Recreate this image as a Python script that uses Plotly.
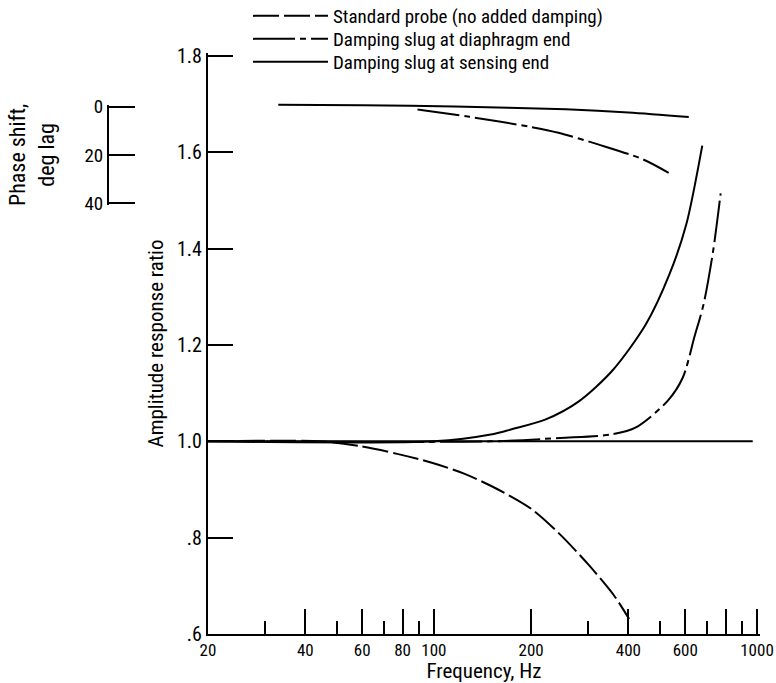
import math
import plotly.graph_objects as go

# ---------------- data ----------------
# Amplitude response ratio
freq_std = [20, 45, 59, 77, 98, 124, 158, 200, 243, 300, 361, 402]
amp_std = [1.0, 1.0, 0.990, 0.974, 0.956, 0.933, 0.900, 0.860, 0.810, 0.745, 0.680, 0.631]

freq_diaph = [20, 150, 246, 352, 422, 529, 589, 641, 683, 731, 772]
amp_diaph = [1.0, 1.0, 1.007, 1.014, 1.029, 1.084, 1.132, 1.218, 1.284, 1.394, 1.515]

freq_sens_rise = [20, 100, 150, 174, 221, 281, 357, 453, 536, 604, 677]
amp_sens_rise = [1.0, 1.0, 1.014, 1.025, 1.045, 1.083, 1.147, 1.243, 1.347, 1.450, 1.614]

freq_flat = [20, 970]
amp_flat = [1.0, 1.0]

# Phase shift, deg lag
freq_ph_sens = [33, 60, 116, 256, 400, 615]
ph_sens = [-0.8, -0.6, -0.1, 1.1, 2.4, 4.3]

freq_ph_diaph = [89, 129, 196, 243, 324, 442, 533]
ph_diaph = [1.2, 4.2, 8.2, 10.8, 15.7, 21.7, 27.4]

# axis ticks
x_major = [20, 40, 60, 80, 100, 200, 400, 600, 800, 1000]
x_major_text = ["20", "40", "60", "80", "100", "200", "400", "600", "", "1000"]
x_minor = [30, 50, 70, 90, 300, 500, 700, 900]
x_long = [100, 1000]
y_vals = [0.6, 0.8, 1.0, 1.2, 1.4, 1.6, 1.8]
y_text = [".6", ".8", "1.0", "1.2", "1.4", "1.6", "1.8"]
ph_ticks = [0, 20, 40]

# ---------------- styling / layout constants ----------------
FONT = "Roboto Condensed, Liberation Sans Narrow, Roboto, sans-serif"
DASH_STD = "26px,5px"
DASH_DD = "42px,5px,6px,5px"
LW = 2
PAD = 3  # px of axis beyond the end ticks so end ticks are drawn

W, H = 776, 683
PX_X20, PX_X1000 = 208, 757
PX_Y06, PX_Y18 = 634, 56
PX_PH_X, PX_PH0, PX_PH40 = 108, 106.7, 203.3
LEG_ITEMW = 75
LEG_X, LEG_TOPS = 333 - (LEG_ITEMW + 10), [-3, 20, 43]

ML = 100
MR = W - (PX_X1000 + PAD)
MT = PX_Y18 - PAD
MB = H - PX_Y06
paper_w = W - ML - MR
paper_h = H - MT - MB

x_lo = math.log10(20)
x_hi = 3 + PAD * (3 - x_lo) / (PX_X1000 - PX_X20)
y_hi = 1.8 + PAD * 1.2 / (PX_Y06 - PX_Y18)
x_dom0 = (PX_X20 - ML) / paper_w
ph_pos = (PX_PH_X - ML) / paper_w

deg_px = (PX_PH40 - PX_PH0) / 40.0
ph_pad = 1.5
ph_dom = [(H - MB - (PX_PH40 + ph_pad)) / paper_h, (H - MB - (PX_PH0 - ph_pad)) / paper_h]
ph_range = [40 + ph_pad / deg_px, -ph_pad / deg_px]
ph_full = [(H - MB - PX_PH0) / deg_px, (MT - PX_PH0) / deg_px]

fig = go.Figure()
fig.add_trace(go.Scatter(x=freq_std, y=amp_std, mode="lines", name="Standard probe (no added damping)",
                         legend="legend",
                         line=dict(color="black", width=LW, dash=DASH_STD, shape="spline", smoothing=0.8)))
fig.add_trace(go.Scatter(x=freq_diaph, y=amp_diaph, mode="lines", name="Damping slug at diaphragm end",
                         legend="legend2",
                         line=dict(color="black", width=LW, dash=DASH_DD, shape="spline", smoothing=0.8)))
fig.add_trace(go.Scatter(x=freq_flat, y=amp_flat, mode="lines", name="Damping slug at sensing end",
                         legend="legend3", line=dict(color="black", width=LW)))
fig.add_trace(go.Scatter(x=freq_sens_rise, y=amp_sens_rise, mode="lines", showlegend=False,
                         name="Damping slug at sensing end",
                         line=dict(color="black", width=LW, shape="spline", smoothing=0.8)))
fig.add_trace(go.Scatter(x=freq_ph_sens, y=ph_sens, mode="lines", showlegend=False, yaxis="y3",
                         name="Phase, sensing end",
                         line=dict(color="black", width=LW, shape="spline", smoothing=0.8)))
fig.add_trace(go.Scatter(x=freq_ph_diaph, y=ph_diaph, mode="lines", showlegend=False, yaxis="y2",
                         name="Phase, diaphragm end",
                         line=dict(color="black", width=LW, dash=DASH_DD, shape="spline", smoothing=0.8)))


def f(size):
    return dict(family=FONT, size=size, color="black")


def leg(top_px):
    return dict(x=(LEG_X - ML) / paper_w, y=1 + (MT - top_px) / paper_h, xanchor="left", yanchor="top",
                bgcolor="rgba(0,0,0,0)", font=f(19), itemwidth=LEG_ITEMW)


fig.update_layout(
    width=W, height=H,
    margin=dict(l=ML, r=MR, t=MT, b=MB, autoexpand=False),
    paper_bgcolor="white", plot_bgcolor="rgba(0,0,0,0)",
    font=f(17),
    xaxis=dict(type="log", range=[x_lo, x_hi], domain=[x_dom0, 1], automargin=False,
               tickvals=x_major, ticktext=x_major_text, ticks="inside", ticklen=25,
               tickwidth=2, tickcolor="black", tickfont=f(17),
               minor=dict(tickvals=x_minor, ticks="inside", ticklen=13, tickwidth=2, tickcolor="black"),
               showline=True, linecolor="black", linewidth=2, showgrid=False, zeroline=False,
               title=dict(text="Frequency, Hz", font=f(21), standoff=4)),
    xaxis2=dict(type="log", range=[x_lo, x_hi], domain=[x_dom0, 1], overlaying="x", anchor="y",
                side="bottom", tickvals=x_long, ticks="inside", ticklen=38, tickwidth=2,
                tickcolor="black", showticklabels=False, showline=False, showgrid=False, zeroline=False),
    yaxis=dict(range=[0.6, y_hi], tickvals=y_vals, ticktext=y_text, ticks="inside", ticklen=25,
               tickwidth=2, tickcolor="black", tickfont=f(20), automargin=False,
               showline=True, linecolor="black", linewidth=2, showgrid=False, zeroline=False,
               title=dict(text="Amplitude response ratio", font=f(21), standoff=8)),
    yaxis2=dict(domain=ph_dom, range=ph_range, anchor="free", position=ph_pos, side="left",
                tickvals=ph_ticks, ticks="inside", ticklen=26, tickwidth=2, tickcolor="black",
                tickfont=f(19), showline=True, linecolor="black", linewidth=2, automargin=False,
                showgrid=False, zeroline=False),
    yaxis3=dict(range=ph_full, overlaying="y", visible=False),
    legend=leg(LEG_TOPS[0]),
    legend2=leg(LEG_TOPS[1]),
    legend3=leg(LEG_TOPS[2]),
    annotations=[dict(text="Phase shift,<br>deg lag", xref="paper", yref="paper",
                      x=(32 - ML) / paper_w, y=(H - MB - 155) / paper_h,
                      xanchor="center", yanchor="middle", textangle=-90, showarrow=False,
                      font=f(22))],
)

fig.write_html("out.html")
